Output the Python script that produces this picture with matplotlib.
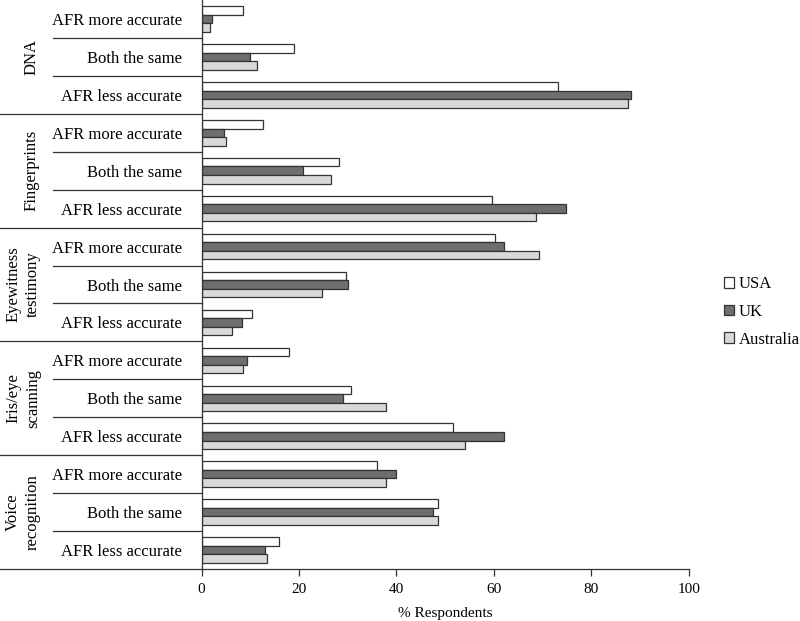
import numpy as np
import matplotlib
matplotlib.use('Agg')
import matplotlib.pyplot as plt
from matplotlib.patches import Patch

plt.rcParams['font.family'] = ['Liberation Serif', 'DejaVu Serif']

groups = ['DNA', 'Fingerprints', 'Eyewitness\ntestimony', 'Iris/eye\nscanning', 'Voice\nrecognition']
categories = ['AFR more accurate', 'Both the same', 'AFR less accurate']

# values per row, top to bottom (5 groups x 3 categories)
usa = [8.5, 18.9, 73.1,
       12.6, 28.2, 59.7,
       60.3, 29.6, 10.4,
       17.9, 30.7, 51.6,
       35.9, 48.6, 15.8]
uk = [2.2, 10.0, 88.1,
      4.5, 20.8, 74.8,
      62.1, 30.0, 8.2,
      9.3, 29.0, 62.1,
      39.8, 47.4, 13.1]
australia = [1.8, 11.3, 87.5,
             5.0, 26.6, 68.7,
             69.2, 24.8, 6.3,
             8.5, 37.8, 54.1,
             37.9, 48.6, 13.4]
series = ['USA', 'UK', 'Australia']
colors = ['white', '#6e6e6e', '#d9d9d9']
xticks = [0, 20, 40, 60, 80, 100]

fig = plt.figure(figsize=(8, 6.21), dpi=100)
ax = fig.add_axes([0.252, 0.0837, 0.609, 0.9163])

n_rows = len(groups) * len(categories)
y = np.arange(n_rows)
h = 0.225
for i, (vals, c) in enumerate(zip([usa, uk, australia], colors)):
    ax.barh(y + (i - 1) * h, vals, height=h, color=c, edgecolor='#333333', linewidth=0.9)

ax.set_ylim(n_rows - 0.5, -0.5)
ax.set_xlim(0, 100)
ax.set_xticks(xticks)
ax.tick_params(axis='x', labelsize=11, length=5, width=0.9, color='#333333', pad=5)
ax.set_yticks(y)
ax.set_yticklabels(categories * len(groups), fontsize=12)
ax.tick_params(axis='y', length=0, pad=14)
ax.set_xlabel('% Respondents', fontsize=11, labelpad=8)

for s in ['top', 'right']:
    ax.spines[s].set_visible(False)
for s in ['left', 'bottom']:
    ax.spines[s].set_linewidth(0.9)
    ax.spines[s].set_color('#333333')

# table-like lines and group labels on the left
px = 487  # axes width in pixels
trans = ax.get_yaxis_transform()
x_full = -201.5 / px
x_cat = -(201.5 - 53) / px
for r in range(1, n_rows):
    xs = x_full if r % 3 == 0 else x_cat
    ax.plot([xs, 0], [r - 0.5, r - 0.5], color='#333333', lw=0.9, transform=trans, clip_on=False)
ax.plot([x_full, 0], [n_rows - 0.5, n_rows - 0.5], color='#333333', lw=0.9, transform=trans, clip_on=False)

for g, name in enumerate(groups):
    xc = 23 if '\n' in name else 31
    ax.text(-(201.5 - xc) / px, g * 3 + 1, name, transform=trans, rotation=90,
            ha='center', va='center', fontsize=12, multialignment='center', linespacing=1.3)

handles = [Patch(facecolor=c, edgecolor='#333333', linewidth=0.9) for c in colors]
fig.legend(handles, series, loc='center left', bbox_to_anchor=(0.905, 0.4976), frameon=False,
           fontsize=12, handlelength=0.6, handleheight=0.6, handletextpad=0.3,
           labelspacing=0.7, borderpad=0, borderaxespad=0)

fig.savefig('out.png', dpi=100)
